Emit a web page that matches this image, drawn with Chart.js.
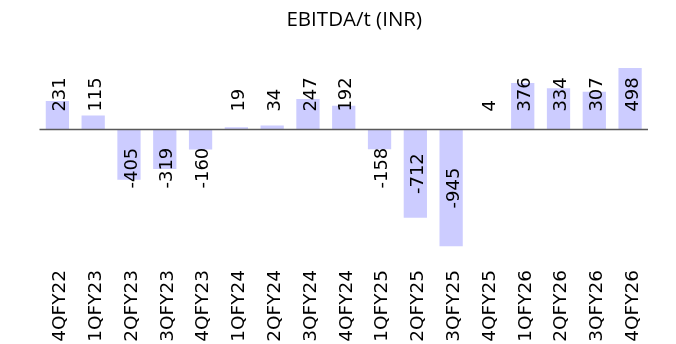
<!DOCTYPE html>
<html>
<head>
<meta charset="utf-8">
<script src="https://cdn.jsdelivr.net/npm/chart.js@4.4.0/dist/chart.umd.min.js"></script>
<style>
  html, body { margin: 0; padding: 0; background: #fff; }
  #wrap { width: 676px; height: 344px; }
</style>
</head>
<body>
<div id="wrap"><canvas id="ebitda"></canvas></div>
<script>
const quarters = ['4QFY22', '1QFY23', '2QFY23', '3QFY23', '4QFY23', '1QFY24', '2QFY24', '3QFY24', '4QFY24',
  '1QFY25', '2QFY25', '3QFY25', '4QFY25', '1QFY26', '2QFY26', '3QFY26', '4QFY26'];
const ebitdaPerTon = [231, 115, -405, -319, -160, 19, 34, 247, 192, -158, -712, -945, 4, 376, 334, 307, 498];

const barColor = 'rgb(204, 204, 255)';
const labelFont = '18px "DejaVu Sans"';

// zero line + rotated value labels
const valueLabels = {
  id: 'valueLabels',
  afterDatasetsDraw(chart) {
    const ctx = chart.ctx;
    const y = chart.scales.y;
    const area = chart.chartArea;
    const zero = y.getPixelForValue(0);

    ctx.save();
    ctx.strokeStyle = '#595959';
    ctx.lineWidth = 1.5;
    ctx.beginPath();
    ctx.moveTo(area.left, zero);
    ctx.lineTo(area.right, zero);
    ctx.stroke();

    ctx.fillStyle = '#000';
    ctx.font = labelFont;
    ctx.textBaseline = 'middle';
    const meta = chart.getDatasetMeta(0);
    meta.data.forEach((bar, i) => {
      const v = ebitdaPerTon[i];
      ctx.save();
      if (v >= 0) {
        ctx.translate(bar.x, zero - 18);
        ctx.rotate(-Math.PI / 2);
        ctx.textAlign = 'left';
      } else {
        const mid = (zero + bar.y) / 2;
        ctx.translate(bar.x, Math.max(zero + 38.5, mid));
        ctx.rotate(-Math.PI / 2);
        ctx.textAlign = 'center';
      }
      // nudge so the digits sit centred on the bar
      ctx.fillText(String(v), 0, 3);
      ctx.restore();
    });
    ctx.restore();
  }
};

new Chart(document.getElementById('ebitda'), {
  type: 'bar',
  data: {
    labels: quarters,
    datasets: [{
      data: ebitdaPerTon,
      backgroundColor: barColor,
      borderWidth: 0,
      categoryPercentage: 1,
      barPercentage: 0.65
    }]
  },
  options: {
    responsive: true,
    maintainAspectRatio: false,
    animation: false,
    layout: { padding: { left: 39.5, right: 7, top: 0, bottom: 2 } },
    plugins: {
      legend: { display: false },
      tooltip: { enabled: false },
      title: {
        display: true,
        text: 'EBITDA/t (INR)',
        color: '#000',
        font: { family: 'Open Sans', size: 20.5, weight: 'normal' },
        padding: { top: 7.5, bottom: 35.9 }
      }
    },
    scales: {
      x: {
        grid: { display: false, drawTicks: false },
        border: { display: false },
        ticks: {
          color: '#000',
          font: { family: 'DejaVu Sans', size: 18.5 },
          maxRotation: 90,
          minRotation: 90,
          padding: 23.5,
          labelOffset: 3,
          autoSkip: false
        },
        afterFit(scale) { scale.height = 95.5; }
      },
      y: {
        display: false,
        min: -945,
        max: 498
      }
    }
  },
  plugins: [valueLabels]
});
</script>
</body>
</html>
